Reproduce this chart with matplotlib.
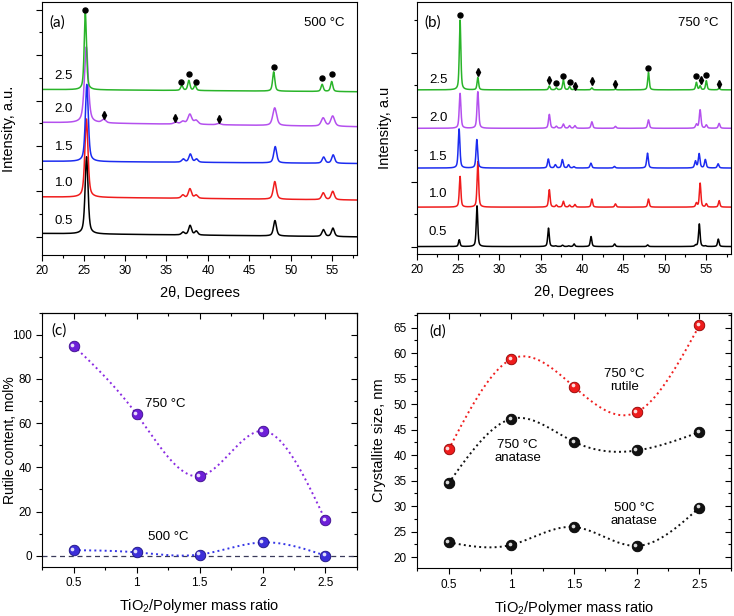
import numpy as np
import matplotlib
matplotlib.use('Agg')
import matplotlib.pyplot as plt
from matplotlib.ticker import MultipleLocator, NullFormatter
import matplotlib.transforms as mtransforms

plt.rcParams['font.family'] = ['Liberation Sans', 'DejaVu Sans']
plt.rcParams['mathtext.fontset'] = 'custom'
plt.rcParams['mathtext.rm'] = 'Liberation Sans'
plt.rcParams['mathtext.it'] = 'Liberation Sans:italic'

# ---------------- data ----------------
ratios = [0.5, 1.0, 1.5, 2.0, 2.5]
ratio_labels = ['0.5', '1.0', '1.5', '2.0', '2.5']
xrd_colors = ['#000000', '#f01c1c', '#1c2cf0', '#b450ee', '#2ab42a']

# (a) 500 °C : peak positions (deg) and heights per sample (axis units)
peaks_a = [25.3, 27.4, 36.1, 36.95, 37.8, 38.55, 41.3, 48.05, 53.9, 55.05]
heights_a = [
    [3.40, 0.00, 0.00, 0.12, 0.42, 0.17, 0.00, 0.68, 0.30, 0.37],  # 0.5
    [3.45, 0.00, 0.00, 0.14, 0.42, 0.14, 0.00, 0.78, 0.30, 0.37],  # 1.0
    [3.40, 0.00, 0.00, 0.14, 0.36, 0.14, 0.00, 0.72, 0.27, 0.37],  # 1.5
    [3.35, 0.15, 0.08, 0.12, 0.44, 0.17, 0.06, 0.78, 0.36, 0.45],  # 2.0
    [3.40, 0.00, 0.00, 0.22, 0.44, 0.22, 0.00, 0.85, 0.31, 0.44],  # 2.5
]
shift_a = [0.05, 0.03, 0.08, 0.02, -0.1]
width_a = [0.42, 0.45, 0.42, 0.55, 0.32]
base_left_a = [0.15, 1.76, 3.33, 5.04, 6.49]
base_right_a = [0.00, 1.62, 3.23, 4.85, 6.39]
anatase_x_a = [25.2, 36.8, 37.7, 38.55, 48.0, 53.8, 55.0]
anatase_y_a = [9.99, 6.81, 7.17, 6.81, 7.47, 6.98, 7.17]
rutile_x_a = [27.4, 36.0, 41.3]
rutile_y_a = [5.36, 5.23, 5.18]
label_y_a = [0.69, 2.35, 3.95, 5.63, 7.08]

# (b) 750 °C
peaks_b = [25.25, 27.4, 36.05, 36.9, 37.75, 38.5, 39.15, 41.2, 44.05, 48.05, 53.85, 54.3, 55.05, 56.6]
heights_b = [
    [0.21, 1.26, 0.57, 0.02, 0.04, 0.02, 0.08, 0.31, 0.08, 0.05, 0.04, 0.70, 0.02, 0.23],  # 0.5
    [0.95, 1.41, 0.54, 0.06, 0.18, 0.06, 0.08, 0.25, 0.10, 0.25, 0.12, 0.74, 0.10, 0.20],  # 1.0
    [1.21, 0.88, 0.28, 0.10, 0.26, 0.10, 0.04, 0.15, 0.05, 0.46, 0.21, 0.44, 0.26, 0.13],  # 1.5
    [1.08, 1.13, 0.43, 0.06, 0.13, 0.08, 0.08, 0.20, 0.06, 0.26, 0.12, 0.57, 0.10, 0.15],  # 2.0
    [2.16, 0.38, 0.12, 0.06, 0.31, 0.10, 0.04, 0.06, 0.02, 0.54, 0.23, 0.12, 0.28, 0.05],  # 2.5
]
shift_b = [-0.1, 0.0, -0.12, 0.0, 0.0]
width_b = [0.22, 0.22, 0.24, 0.24, 0.22]
base_b = [0.0, 1.22, 2.43, 3.66, 4.85]
anatase_x_b = [25.25, 36.85, 37.75, 38.5, 48.05, 53.85, 55.05]
anatase_y_b = [7.17, 5.06, 5.29, 5.09, 5.54, 5.28, 5.32]
rutile_x_b = [27.4, 36.0, 39.15, 41.2, 44.0, 54.35, 56.6]
rutile_y_b = [5.39, 5.16, 4.98, 5.11, 5.03, 5.16, 5.04]
label_y_b = [0.45, 1.63, 2.78, 3.98, 5.16]

# (c) rutile content, mol%
rutile_750 = [95.0, 64.0, 36.0, 56.5, 16.0]
rutile_500 = [2.5, 1.5, 0.5, 6.0, 0.0]

# (d) crystallite size, nm
size_rutile_750 = [41.1, 58.8, 53.4, 48.4, 65.4]
size_anatase_750 = [34.5, 47.1, 42.6, 40.9, 44.5]
size_anatase_500 = [22.9, 22.4, 25.9, 22.2, 29.7]


# ---------------- helpers ----------------
def profile(x, c, h, w):
    g = np.exp(-4 * np.log(2) * ((x - c) / w) ** 2)
    l = 1.0 / (1.0 + 4 * ((x - c) / w) ** 2)
    return h * (0.55 * l + 0.45 * g)


def pattern(x, pos, hts, shift, w):
    y = np.zeros_like(x)
    for c, h in zip(pos, hts):
        if h > 0:
            y += profile(x, c + shift, h, w)
    return y


def natural_spline(xs, ys, n=300):
    xs = np.asarray(xs, float)
    ys = np.asarray(ys, float)
    k = len(xs)
    h = np.diff(xs)
    A = np.zeros((k, k))
    r = np.zeros(k)
    A[0, 0] = 1
    A[-1, -1] = 1
    for i in range(1, k - 1):
        A[i, i - 1] = h[i - 1]
        A[i, i] = 2 * (h[i - 1] + h[i])
        A[i, i + 1] = h[i]
        r[i] = 6 * ((ys[i + 1] - ys[i]) / h[i] - (ys[i] - ys[i - 1]) / h[i - 1])
    M = np.linalg.solve(A, r)
    xx = np.linspace(xs[0], xs[-1], n)
    yy = np.empty_like(xx)
    for j, x in enumerate(xx):
        i = min(np.searchsorted(xs, x) - 1, k - 2)
        i = max(i, 0)
        t0 = xs[i + 1] - x
        t1 = x - xs[i]
        yy[j] = (M[i] * t0 ** 3 / (6 * h[i]) + M[i + 1] * t1 ** 3 / (6 * h[i])
                 + (ys[i] / h[i] - M[i] * h[i] / 6) * t0
                 + (ys[i + 1] / h[i] - M[i + 1] * h[i] / 6) * t1)
    return xx, yy


fig = plt.figure(figsize=(7.34, 6.16), dpi=100)


def sphere(ax, xs, ys, color, edge, ms=7.6):
    ax.plot(xs, ys, 'o', ms=ms, mfc=color, mec=edge, mew=0.6, zorder=3, clip_on=False)
    off = mtransforms.offset_copy(ax.transData, fig=fig, x=-1.3, y=1.3, units='dots')
    ax.plot(xs, ys, 'o', ms=ms * 0.35, mfc='white', mec='none', alpha=0.85,
            transform=off, zorder=4, clip_on=False)


tick_fs = 8.5
label_fs = 10.5

# ---------------- (a) and (b) ----------------
x = np.linspace(20, 58, 4000)


def xrd_panel(rect, pos, heights, shifts, widths, bl, br, an_x, an_y, ru_x, ru_y,
              lab_y, ylim, ylab, tag, temp, mstep, ylab_x):
    ax = fig.add_axes(rect)
    for i in range(5):
        base = bl[i] + (br[i] - bl[i]) * (x - 20) / 38.0
        y = base + pattern(x, pos, heights[i], shifts[i], widths[i])
        ax.plot(x, y, color=xrd_colors[i], lw=1.1, zorder=2)
        ax.text(22.6, lab_y[i], ratio_labels[i], fontsize=9.5, ha='center', va='center')
    ax.plot(an_x, an_y, 'o', color='black', ms=3.6, zorder=5)
    ax.plot(ru_x, ru_y, 'd', color='black', ms=4.0, zorder=5)
    ax.set_xlim(20, 58)
    ax.set_ylim(*ylim)
    ax.xaxis.set_major_locator(MultipleLocator(5))
    ax.xaxis.set_minor_locator(MultipleLocator(2.5))
    ax.yaxis.set_major_locator(MultipleLocator(2 * mstep))
    ax.yaxis.set_minor_locator(MultipleLocator(mstep))
    ax.yaxis.set_major_formatter(NullFormatter())
    ax.tick_params(axis='both', which='major', direction='out', length=4, width=0.8,
                   labelsize=tick_fs)
    ax.tick_params(axis='both', which='minor', direction='out', length=2.5, width=0.8)
    ax.set_xlabel('2θ, Degrees', fontsize=label_fs, labelpad=6)
    ax.set_ylabel(ylab, fontsize=label_fs)
    ax.yaxis.set_label_coords(ylab_x, 0.5)
    ax.text(0.024, 0.917, tag, transform=ax.transAxes, fontsize=11, ha='left', va='center',
            family=['Lato', 'DejaVu Sans'])
    ax.text(0.96, 0.917, temp, transform=ax.transAxes, fontsize=9.5, ha='right', va='center')
    return ax


xrd_panel([0.0576, 0.586, 0.4287, 0.4107], peaks_a, heights_a, shift_a, width_a,
          base_left_a, base_right_a, anatase_x_a, anatase_y_a, rutile_x_a, rutile_y_a,
          label_y_a, (-0.8, 10.34), 'Intensity, a.u.', '(a)', '500 °C', 1.0, -0.082)
xrd_panel([0.5677, 0.5877, 0.4278, 0.4091], peaks_b, heights_b, shift_b, width_b,
          base_b, base_b, anatase_x_b, anatase_y_b, rutile_x_b, rutile_y_b,
          label_y_b, (-0.23, 7.57), 'Intensity, a.u', '(b)', '750 °C', 1.0, -0.08)


def ratio_axes(rect):
    ax = fig.add_axes(rect)
    ax.set_xlim(0.25, 2.75)
    ax.set_xticks(ratios)
    ax.set_xticklabels(['0.5', '1', '1.5', '2', '2.5'])
    ax.xaxis.set_minor_locator(MultipleLocator(0.25))
    ax.tick_params(axis='both', which='major', direction='out', length=4, width=0.8,
                   labelsize=tick_fs)
    ax.tick_params(axis='both', which='minor', direction='out', length=2.5, width=0.8)
    ax.set_xlabel('TiO$_2$/Polymer mass ratio', fontsize=label_fs, labelpad=6)
    # mirrored inward ticks on top
    sec_x = ax.secondary_xaxis('top')
    sec_x.set_xticks(ratios)
    sec_x.xaxis.set_minor_locator(MultipleLocator(0.25))
    sec_x.tick_params(which='major', direction='in', length=4, width=0.8, labeltop=False)
    sec_x.tick_params(which='minor', direction='in', length=2.5, width=0.8)
    sec_x.set_xticklabels([])
    return ax


# ---------------- (c) ----------------
axc = ratio_axes([0.0576, 0.080, 0.4287, 0.4123])
axc.set_ylim(-5, 110)
axc.yaxis.set_major_locator(MultipleLocator(20))
axc.yaxis.set_minor_locator(MultipleLocator(10))
axc.axhline(0, color='#3a3a5a', lw=0.9, ls=(0, (4, 3)), zorder=1)
sx, sy = natural_spline(ratios, rutile_750)
axc.plot(sx, sy, color='#8a2be2', lw=1.4, ls=':', zorder=2)
sx, sy = natural_spline(ratios, rutile_500)
axc.plot(sx, sy, color='#3535e6', lw=1.4, ls=':', zorder=2)
sphere(axc, ratios, rutile_750, '#6d1fd8', '#3a0a8a')
sphere(axc, ratios, rutile_500, '#3c2fd8', '#1a1080')
axc.set_ylabel('Rutile content, mol%', fontsize=10)
axc.yaxis.set_label_coords(-0.08, 0.5)
axc.text(1.07, 68.5, '750 °C', fontsize=9.5, ha='left', va='center')
axc.text(1.09, 8.4, '500 °C', fontsize=9.5, ha='left', va='center')
axc.text(0.03, 0.928, '(c)', transform=axc.transAxes, fontsize=11, ha='left', va='center',
         family=['Lato', 'DejaVu Sans'])
sec_y = axc.secondary_yaxis('right')
sec_y.yaxis.set_major_locator(MultipleLocator(20))
sec_y.yaxis.set_minor_locator(MultipleLocator(10))
sec_y.tick_params(which='major', direction='in', length=4, width=0.8, labelright=False)
sec_y.tick_params(which='minor', direction='in', length=2.5, width=0.8)

# ---------------- (d) ----------------
axd = ratio_axes([0.5685, 0.0774, 0.427, 0.4149])
axd.set_ylim(17.8, 67.9)
axd.yaxis.set_major_locator(MultipleLocator(5))
axd.yaxis.set_minor_locator(MultipleLocator(2.5))
for vals, lc, mc, ec in [(size_rutile_750, '#f02020', '#ee1c1c', '#900000'),
                         (size_anatase_750, '#111111', '#111111', '#000000'),
                         (size_anatase_500, '#111111', '#111111', '#000000')]:
    sx, sy = natural_spline(ratios, vals)
    axd.plot(sx, sy, color=lc, lw=1.4, ls=':', zorder=2)
    sphere(axd, ratios, vals, mc, ec)
axd.set_ylabel('Crystallite size, nm', fontsize=label_fs)
axd.yaxis.set_label_coords(-0.1, 0.5)
axd.text(1.90, 54.7, '750 °C\nrutile', fontsize=9.5, ha='center', va='center', linespacing=1.1)
axd.text(1.05, 40.7, '750 °C\nanatase', fontsize=9.5, ha='center', va='center', linespacing=1.1)
axd.text(1.98, 28.3, '500 °C\nanatase', fontsize=9.5, ha='center', va='center', linespacing=1.1)
axd.text(0.038, 0.925, '(d)', transform=axd.transAxes, fontsize=11, ha='left', va='center',
         family=['Lato', 'DejaVu Sans'])
sec_y = axd.secondary_yaxis('right')
sec_y.yaxis.set_major_locator(MultipleLocator(5))
sec_y.yaxis.set_minor_locator(MultipleLocator(2.5))
sec_y.tick_params(which='major', direction='in', length=4, width=0.8, labelright=False)
sec_y.tick_params(which='minor', direction='in', length=2.5, width=0.8)

fig.savefig('out.png', dpi=100)
